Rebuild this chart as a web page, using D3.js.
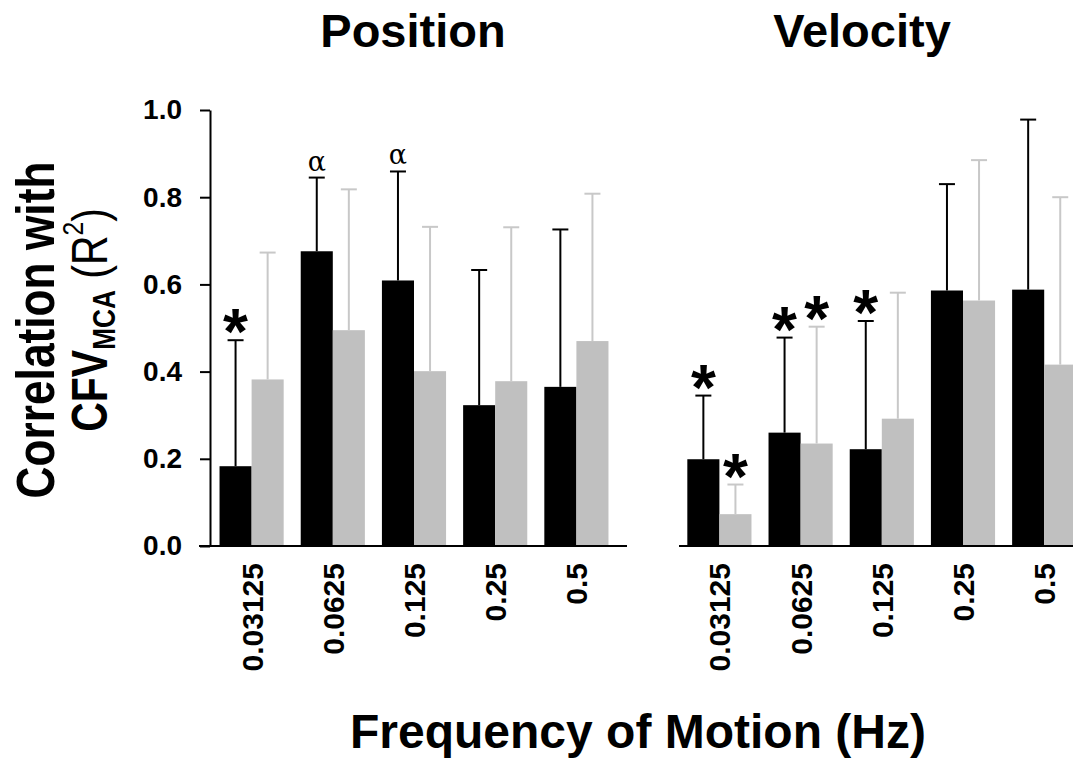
<!DOCTYPE html>
<html>
<head>
<meta charset="utf-8">
<script src="https://cdn.jsdelivr.net/npm/d3@7"></script>
<style>
  body { margin: 0; background: #fff; }
  svg { display: block; }
</style>
</head>
<body>
<div id="chart"></div>
<script>
// frequency groups (Hz)
const freqLabels = ['0.03125', '0.0625', '0.125', '0.25', '0.5']
const series = ['black', 'gray']

// Position panel: mean R^2 and SD (upper whisker)
const posBlack = [0.183, 0.676, 0.609, 0.323, 0.365]
const posBlackSD = [0.289, 0.169, 0.250, 0.310, 0.361]
const posGray = [0.382, 0.495, 0.401, 0.378, 0.470]
const posGraySD = [0.291, 0.323, 0.331, 0.353, 0.338]
const posBlackMarks = ['*', 'α', 'α', '', '']
const posGrayMarks = ['', '', '', '', '']

// Velocity panel
const velBlack = [0.199, 0.260, 0.222, 0.586, 0.588]
const velBlackSD = [0.146, 0.218, 0.294, 0.244, 0.390]
const velGray = [0.073, 0.235, 0.292, 0.563, 0.416]
const velGraySD = [0.068, 0.268, 0.289, 0.322, 0.384]
const velBlackMarks = ['*', '*', '*', '', '']
const velGrayMarks = ['*', '*', '', '', '']

const yTicks = [0, 0.2, 0.4, 0.6, 0.8, 1.0]

const width = 1073
const height = 765
const font = '"Liberation Sans", Arial, sans-serif'
const colors = { black: '#000000', gray: '#c0c0c0' }
const errColors = { black: '#000000', gray: '#c8c8c8' }

const svg = d3.select('#chart').append('svg')
  .attr('width', width)
  .attr('height', height)
  .style('font-family', font)

const y = d3.scaleLinear().domain([0, 1]).range([546, 110])

function rows (means, sds, marks, key) {
  return freqLabels.map((f, i) => ({ f, key, v: means[i], sd: sds[i], mark: marks[i] }))
}

function drawPanel (title, titleX, range, baseX, data) {
  const x = d3.scaleBand().domain(freqLabels).range(range)
    .paddingInner(0.21).paddingOuter(0.105)
  const xs = d3.scaleBand().domain(series).range([0, x.bandwidth()])
  const g = svg.append('g')

  g.append('text')
    .attr('x', titleX).attr('y', 47)
    .attr('text-anchor', 'middle')
    .style('font-size', '47px').style('font-weight', 'bold')
    .text(title)

  const bx = d => x(d.f) + xs(d.key)
  const cx = d => bx(d) + xs.bandwidth() / 2

  g.selectAll('rect.bar').data(data).join('rect')
    .attr('class', 'bar')
    .attr('x', bx)
    .attr('width', xs.bandwidth())
    .attr('y', d => y(d.v))
    .attr('height', d => y(0) - y(d.v))
    .attr('fill', d => colors[d.key])

  // error bars (upper only)
  const eb = g.selectAll('g.err').data(data).join('g')
    .attr('class', 'err')
    .attr('stroke', d => errColors[d.key])
    .attr('stroke-width', 2)
  eb.append('line')
    .attr('x1', cx).attr('x2', cx)
    .attr('y1', d => y(d.v)).attr('y2', d => y(d.v + d.sd))
  eb.append('line')
    .attr('x1', d => cx(d) - 8).attr('x2', d => cx(d) + 8)
    .attr('y1', d => y(d.v + d.sd)).attr('y2', d => y(d.v + d.sd))

  // significance markers
  g.selectAll('text.star').data(data.filter(d => d.mark === '*')).join('text')
    .attr('class', 'star')
    .attr('x', cx)
    .attr('y', d => y(d.v + d.sd) + 14)
    .attr('text-anchor', 'middle')
    .style('font-size', '64px').style('font-weight', 'bold')
    .text('*')
  g.selectAll('text.alpha').data(data.filter(d => d.mark === 'α')).join('text')
    .attr('class', 'alpha')
    .attr('x', cx)
    .attr('y', d => y(d.v + d.sd) - 7)
    .attr('text-anchor', 'middle')
    .style('font-family', '"DejaVu Serif", "Liberation Serif", serif')
    .style('font-size', '27px')
    .text('α')

  // baseline
  g.append('line')
    .attr('x1', baseX).attr('x2', range[1] + 10)
    .attr('y1', y(0)).attr('y2', y(0))
    .attr('stroke', '#000').attr('stroke-width', 2)

  // rotated category labels
  g.selectAll('text.cat').data(freqLabels).join('text')
    .attr('class', 'cat')
    .attr('transform', f => `translate(${x(f) + x.bandwidth() / 2 + 11},563) rotate(-90)`)
    .attr('text-anchor', 'end')
    .style('font-size', '30px').style('font-weight', 'bold')
    .text(f => f)
  return x
}

drawPanel('Position', 413, [211, 617], 199,
  rows(posBlack, posBlackSD, posBlackMarks, 'black').concat(rows(posGray, posGraySD, posGrayMarks, 'gray')))
drawPanel('Velocity', 862, [678.8, 1084.8], 679,
  rows(velBlack, velBlackSD, velBlackMarks, 'black').concat(rows(velGray, velGraySD, velGrayMarks, 'gray')))

// y axis (left panel only)
const yAxis = svg.append('g')
  .attr('transform', 'translate(210,0)')
  .call(d3.axisLeft(y).tickValues(yTicks).tickFormat(d3.format('.1f'))
    .tickSize(10).tickSizeOuter(0).tickPadding(18))
yAxis.selectAll('path, line').attr('stroke', '#000').attr('stroke-width', 2)
yAxis.selectAll('text')
  .style('font-family', font).style('font-size', '28px').style('font-weight', 'bold')
  .attr('fill', '#000')

// y axis title (glyphs are narrower than Arial in the reference)
svg.append('text')
  .attr('transform', 'translate(54,330) rotate(-90) scale(0.82,1)')
  .attr('text-anchor', 'middle')
  .style('font-size', '54px').style('font-weight', 'bold')
  .text('Correlation with')

const yt2 = svg.append('text')
  .attr('transform', 'translate(107,320) rotate(-90) scale(0.82,1)')
  .attr('text-anchor', 'middle')
  .style('font-size', '50px')
yt2.append('tspan').style('font-weight', 'bold').text('CFV')
yt2.append('tspan').style('font-weight', 'bold').style('font-size', '32px').attr('dy', 8).text('MCA')
yt2.append('tspan').attr('dy', -8).text(' (R')
yt2.append('tspan').style('font-size', '30px').attr('dy', -24).text('2')
yt2.append('tspan').attr('dy', 24).text(')')

// x axis title
svg.append('text')
  .attr('x', 638).attr('y', 748)
  .attr('text-anchor', 'middle')
  .style('font-size', '48px').style('font-weight', 'bold')
  .text('Frequency of Motion (Hz)')
</script>
</body>
</html>
